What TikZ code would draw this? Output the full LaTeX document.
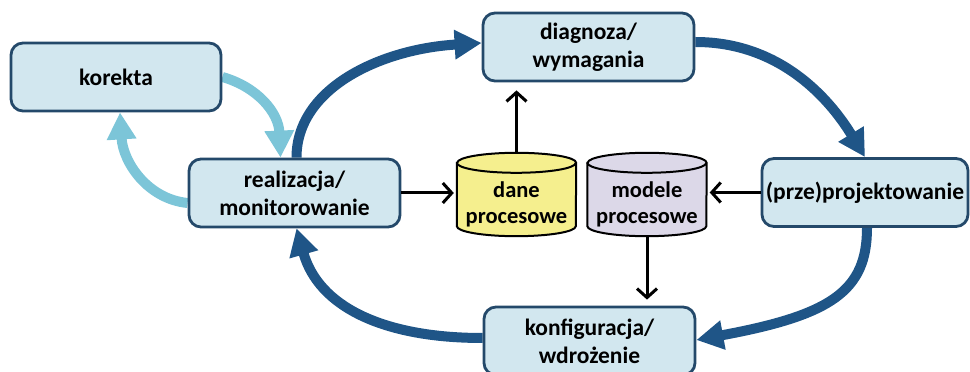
\documentclass[tikz,border=0pt]{standalone}
\usepackage{fontspec}
\setmainfont{Carlito}
\usetikzlibrary{arrows.meta,backgrounds}
\definecolor{boxfill}{HTML}{D2E7EF}
\definecolor{boxline}{HTML}{24496A}
\definecolor{cycleblue}{HTML}{1F5587}
\definecolor{fixblue}{HTML}{7CC5D8}
\definecolor{datayellow}{HTML}{F5EF8E}
\definecolor{modellilac}{HTML}{DCD8E8}
\begin{document}
\begin{tikzpicture}[x=1pt, y=1pt,
	stagebox/.style={rectangle, rounded corners=12pt, draw=boxline,
		line width=2.8pt, fill=boxfill, minimum width=211pt,
		minimum height=68pt, inner sep=0pt, text centered, align=center,
		font=\bfseries\fontsize{23.5}{28}\selectfont},
	storebox/.style={rectangle, minimum width=119pt,
		minimum height=83pt, inner sep=0pt},
	storetext/.style={align=center, inner sep=0pt,
		font=\bfseries\fontsize{22.5}{26}\selectfont},
	cyclearc/.style={draw=cycleblue, line width=10pt,
		-{Triangle[length=27pt, width=28pt]}},
	fixarc/.style={draw=fixblue, line width=10pt,
		-{Triangle[length=27pt, width=28pt]}},
	flow/.style={draw=black, line width=3pt,
		-{Straight Barb[length=9pt, width=20pt]}}]
	\def \ry {10pt}
	\def \rx {59.5pt}
	\useasboundingbox (0,0) rectangle (970,372);

	% etapy cyklu
	\node (korekta) [stagebox, minimum width=210pt] at (116,295) {korekta};
	\node (realizacja) [stagebox] at (294.5,179) {realizacja/\\monitorowanie};
	\node (diagnoza) [stagebox] at (588.5,325) {diagnoza/\\wymagania};
	\node (projekt) [stagebox, minimum width=206pt] at (865,179.5) {(prze)projektowanie};
	\node (konfiguracja) [stagebox] at (589.5,31) {konfiguracja/\\wdrożenie};

	% magazyny
	\node (dane) [storebox] at (516.5,177.5) {};
	\node (modele) [storebox] at (647,177.5) {};
	\foreach \db/\col in {dane/datayellow, modele/modellilac} {
		\draw[line width=2pt, fill=\col] ([yshift=-\ry]\db.north west)
			-- ([yshift=\ry]\db.south west)
			arc[start angle=180, end angle=360, x radius=\rx, y radius=\ry]
			-- ([yshift=-\ry]\db.north east)
			arc[start angle=0, end angle=180, x radius=\rx, y radius=\ry] -- cycle;
		\draw[line width=2pt] ([yshift=-\ry]\db.north west)
			arc[start angle=180, end angle=360, x radius=\rx, y radius=\ry];
	};
	\node (danetxt) [storetext] at ([yshift=-10pt]dane.center) {dane\\procesowe};
	\node (modeletxt) [storetext] at ([yshift=-10pt]modele.center) {modele\\procesowe};

	\begin{scope}[on background layer]
		\draw[cyclearc] ([xshift=2pt]realizacja.north)
			.. controls +(0,70) and +(-100,-6) .. ([yshift=4pt]diagnoza.west);
		\draw[cyclearc] ([yshift=5pt]diagnoza.east)
			.. controls +(90,0) and +(-31,51) .. (projekt.north);
		\draw[cyclearc] ([xshift=2pt]projekt.south)
			.. controls +(0,-63) and +(135,25) .. ([yshift=1pt]konfiguracja.east);
		\draw[cyclearc] ([yshift=3pt]konfiguracja.west)
			.. controls +(-100,0) and +(22,-78) .. ([xshift=2pt]realizacja.south);
		\draw[fixarc] (korekta.east)
			.. controls +(35,-10) and +(-2,45) .. ([xshift=-14pt]realizacja.north);
		\draw[fixarc] ([yshift=-10pt]realizacja.west)
			.. controls +(-40,4) and +(3,-50) .. ([xshift=4pt]korekta.south);
	\end{scope}

	\draw[flow, shorten >=8pt] (dane.north) -- (dane.north |- diagnoza.south);
	\draw[flow, shorten >=3pt] (realizacja.east) -- (realizacja.east -| dane.west);
	\draw[flow, shorten >=3pt] (projekt.west) -- (projekt.west -| modele.east);
	\draw[flow, shorten >=6pt] (modele.south) -- (modele.south |- konfiguracja.north);
\end{tikzpicture}
\end{document}
